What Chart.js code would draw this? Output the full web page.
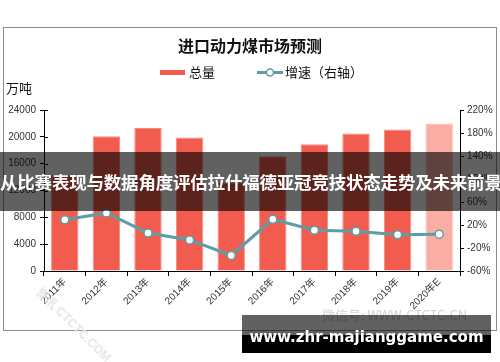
<!DOCTYPE html>
<html>
<head>
<meta charset="utf-8">
<script src="https://cdn.jsdelivr.net/npm/chart.js@4.4.1/dist/chart.umd.min.js"></script>
<style>
    html, body { margin: 0; padding: 0; background: #fff; }
    #wrap { position: relative; width: 500px; height: 362px; overflow: hidden; }
    #chart { position: absolute; left: 0; top: 0; }
    .band {
        position: absolute; left: 0; top: 152px; width: 500px; height: 59px;
        background: rgba(0, 0, 0, 0.62); color: #fff;
        font: bold 17.5px "Noto Sans CJK SC", sans-serif;
        line-height: 59px; text-align: center; white-space: nowrap; letter-spacing: -0.2px;
    }
    .wm {
        position: absolute; left: 322px; top: 305px; color: #d2d2d2;
        font: 13px "Noto Sans CJK SC", sans-serif; white-space: nowrap;
    }
    .wm2 {
        position: absolute; left: 44px; top: 284px; color: #e6e6e6;
        font: bold 12px "Liberation Sans", sans-serif; transform: rotate(45deg);
        transform-origin: left top; white-space: nowrap;
    }
    .site-top {
        position: absolute; left: 242px; top: 315px; width: 249px; height: 20px;
        background: rgba(0, 0, 0, 0.62);
    }
    .site {
        position: absolute; left: 242px; top: 335px; width: 249px; height: 18px; background: #000;
    }
    .site-text {
        position: absolute; left: 242px; top: 315px; width: 249px; height: 38px;
        color: #fff; font: bold 15px "DejaVu Sans", sans-serif; text-align: center;
        line-height: 44px; white-space: nowrap;
    }
</style>
</head>
<body>
<div id="wrap">
    <canvas id="chart" width="500" height="362"></canvas>
    <div class="wm2">资讯 CTCTC.COM</div>
    <div class="wm">微信号: WWW-CTCTC-CN</div>
    <div class="band">从比赛表现与数据角度评估拉什福德亚冠竞技状态走势及未来前景</div>
    <div class="site-top"></div>
    <div class="site"></div>
    <div class="site-text">www.zhr-majianggame.com</div>
</div>
<script>
const years = ['2011年', '2012年', '2013年', '2014年', '2015年', '2016年', '2017年', '2018年', '2019年', '2020年E'];
const totals = [14300, 20100, 21300, 19900, 13200, 17100, 18900, 20500, 21100, 22000];
const growth = [29, 41, 6, -6, -33, 30, 11, 9, 3, 4];
const leftTicks = [0, 4000, 8000, 12000, 16000, 20000, 24000];
const rightTicks = [-60, -20, 20, 60, 100, 140, 180, 220];

const RED = '#f25c4e';
const PINK = '#f9ada3';
const TEAL = '#5c9ea6';
const tickFont = {family: '"Liberation Sans", "Noto Sans CJK SC", sans-serif', size: 10};

// frame, title, legend and unit drawn by hand
const decor = {
    id: 'decor',
    beforeDraw(chart) {
        const c = chart.ctx;
        c.save();
        c.strokeStyle = '#8c8c8c';
        c.lineWidth = 1;
        c.strokeRect(3.5, 27.5, 493, 303);
        c.restore();
    },
    afterDraw(chart) {
        const c = chart.ctx;
        c.save();
        // short tick stubs inside the left axis
        const ys = chart.scales.y;
        c.strokeStyle = '#000';
        c.lineWidth = 1;
        leftTicks.forEach(v => {
            const py = Math.round(ys.getPixelForValue(v)) + 0.5;
            c.beginPath();
            c.moveTo(ys.right, py);
            c.lineTo(ys.right + 4, py);
            c.stroke();
        });

        c.fillStyle = '#111';
        c.font = 'bold 16px "Noto Sans CJK SC", sans-serif';
        c.textAlign = 'center';
        c.textBaseline = 'middle';
        c.fillText('进口动力煤市场预测', 250, 46);

        c.font = '13px "Noto Sans CJK SC", sans-serif';
        c.textAlign = 'left';
        c.fillText('万吨', 6, 88);

        // legend
        c.fillStyle = RED;
        c.fillRect(160, 70, 25, 5);
        c.fillStyle = '#111';
        c.fillText('总量', 189, 72);
        c.strokeStyle = TEAL;
        c.lineWidth = 3;
        c.beginPath();
        c.moveTo(257, 72.5);
        c.lineTo(283, 72.5);
        c.stroke();
        c.fillStyle = '#fff';
        c.lineWidth = 1.5;
        c.beginPath();
        c.arc(270, 72.5, 3.5, 0, Math.PI * 2);
        c.fill();
        c.stroke();
        c.fillStyle = '#111';
        c.fillText('增速（右轴）', 285, 72);
        c.restore();
    }
};

new Chart(document.getElementById('chart'), {
    data: {
        labels: years,
        datasets: [{
                type: 'line',
                label: '增速（右轴）',
                data: growth,
                yAxisID: 'y1',
                borderColor: TEAL,
                borderWidth: 3,
                pointRadius: 4,
                pointBackgroundColor: '#fff',
                pointBorderColor: TEAL,
                pointBorderWidth: 1.5,
                tension: 0,
                order: 0
            }, {
                type: 'bar',
                label: '总量',
                data: totals,
                yAxisID: 'y',
                backgroundColor: ctx => ctx.dataIndex === years.length - 1 ? PINK : RED,
                borderColor: ctx => ctx.dataIndex === years.length - 1 ? '#fcc6bf' : '#f68a80',
                borderWidth: 1,
                barPercentage: 0.66,
                categoryPercentage: 1,
                order: 1
            }]
    },
    options: {
        responsive: false,
        animation: false,
        devicePixelRatio: 1,
        layout: {padding: {top: 110, left: 0, right: 0, bottom: 0}},
        plugins: {legend: {display: false}, tooltip: {enabled: false}},
        scales: {
            x: {
                grid: {display: true, drawOnChartArea: false, drawTicks: true, tickLength: 5, color: '#000', offset: true},
                border: {display: true, color: '#000'},
                ticks: {color: '#333', font: tickFont, minRotation: 45, maxRotation: 45, padding: 0},
                afterFit: s => { s.height = 91; }
            },
            y: {
                position: 'left',
                min: 0,
                max: 24000,
                afterBuildTicks: s => { s.ticks = leftTicks.map(v => ({value: v})); },
                grid: {drawOnChartArea: false, tickLength: 4, color: '#000'},
                border: {display: true, color: '#000'},
                ticks: {color: '#333', font: tickFont, padding: 4, callback: v => String(v)},
                afterFit: s => { s.width = 44; }
            },
            y1: {
                position: 'right',
                min: -60,
                max: 220,
                afterBuildTicks: s => { s.ticks = rightTicks.map(v => ({value: v})); },
                grid: {drawOnChartArea: false, tickLength: 4, color: '#000'},
                border: {display: true, color: '#000'},
                ticks: {color: '#333', font: tickFont, padding: 3, callback: v => v + '%'},
                afterFit: s => { s.width = 40; }
            }
        }
    },
    plugins: [decor]
});
</script>
</body>
</html>
